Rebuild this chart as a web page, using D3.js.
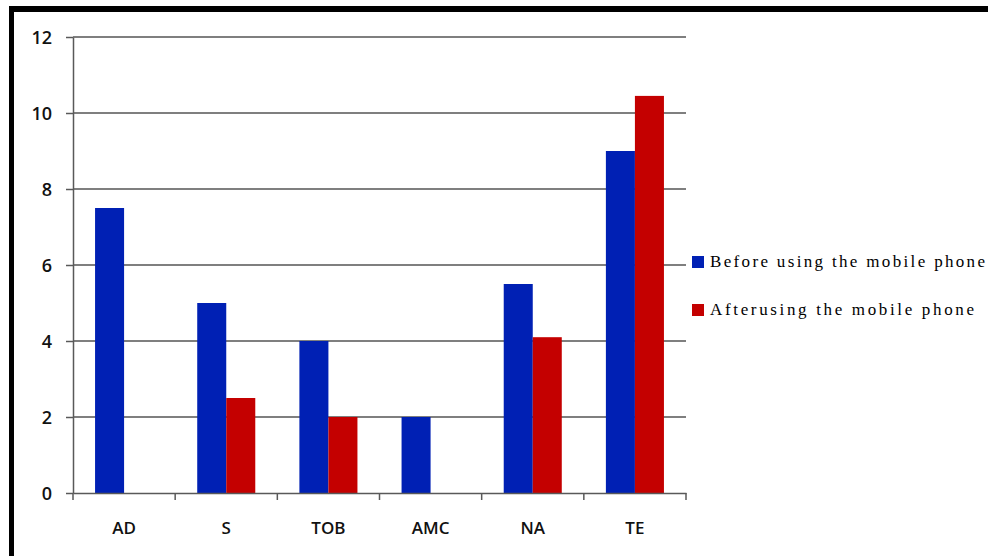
<!DOCTYPE html>
<html>
<head>
<meta charset="utf-8">
<script src="https://cdn.jsdelivr.net/npm/d3@7"></script>
<style>
  html, body { margin: 0; padding: 0; background: #fff; }
  svg { display: block; }
</style>
</head>
<body>
<svg id="chart" width="988" height="556"></svg>
<script>
const categories = ["AD", "S", "TOB", "AMC", "NA", "TE"];
const beforeValues = [7.5, 5, 4, 2, 5.5, 9];
const afterValues = [0, 2.5, 2, 0, 4.1, 10.45];
const seriesNames = ["Before using the mobile phone", "Afterusing the mobile phone"];
const yTicks = [0, 2, 4, 6, 8, 10, 12];

const svg = d3.select("#chart");
const colors = ["#0020b4", "#c40000"];

// frame edges
svg.append("rect").attr("x", 9).attr("y", 6).attr("width", 979).attr("height", 6).attr("fill", "#000");
svg.append("rect").attr("x", 9).attr("y", 6).attr("width", 5).attr("height", 550).attr("fill", "#000");

const plotLeft = 73, plotRight = 686, plotTop = 37, plotBottom = 493;

const x = d3.scaleBand().domain(categories).range([plotLeft, plotRight]).paddingInner(0).paddingOuter(0);
const y = d3.scaleLinear().domain([0, 12]).range([plotBottom, plotTop]);
const inner = d3.scaleBand().domain([0, 1]).range([0, x.bandwidth()]).paddingInner(0).paddingOuter(0.76);

// horizontal gridlines
svg.append("g").selectAll("line").data(yTicks.filter(d => d > 0)).join("line")
  .attr("x1", plotLeft).attr("x2", plotRight)
  .attr("y1", d => y(d)).attr("y2", d => y(d))
  .attr("stroke", "#7f7f7f").attr("stroke-width", 2);

// bars
const groups = svg.append("g").selectAll("g").data(categories).join("g")
  .attr("transform", d => `translate(${x(d)},0)`);
groups.selectAll("rect")
  .data((d, i) => [beforeValues[i], afterValues[i]].map((v, s) => ({ v, s })))
  .join("rect")
  .attr("x", d => inner(d.s))
  .attr("width", inner.bandwidth())
  .attr("y", d => y(d.v))
  .attr("height", d => plotBottom - y(d.v))
  .attr("fill", d => colors[d.s]);

// y axis
const yAxis = svg.append("g").attr("transform", `translate(${plotLeft},0)`)
  .call(d3.axisLeft(y).tickValues(yTicks).tickSize(7).tickPadding(14).tickSizeOuter(0));
yAxis.select(".domain").attr("stroke", "#595959").attr("stroke-width", 1.5);
yAxis.selectAll(".tick line").attr("stroke", "#595959").attr("stroke-width", 1.5);
yAxis.selectAll(".tick text")
  .attr("font-family", "'Open Sans', sans-serif").attr("font-size", 18).attr("font-weight", 600)
  .attr("fill", "#111").attr("dy", "0.35em");

// x axis
const xAxis = svg.append("g").attr("transform", `translate(0,${plotBottom})`)
  .call(d3.axisBottom(x).tickSize(0).tickPadding(29).tickSizeOuter(0));
xAxis.select(".domain").attr("stroke", "#595959").attr("stroke-width", 1.5);
xAxis.selectAll(".tick text")
  .attr("font-family", "'Open Sans', sans-serif").attr("font-size", 17).attr("font-weight", 600)
  .attr("fill", "#111");
// category separator ticks
xAxis.append("g").selectAll("line").data(categories.map(c => x(c)).concat([plotRight]))
  .join("line")
  .attr("x1", d => d).attr("x2", d => d)
  .attr("y1", 0).attr("y2", 7)
  .attr("stroke", "#595959").attr("stroke-width", 1.5);

// legend
const legend = svg.append("g");
const legendY = [262, 310];
const legendLen = [275, 264];
seriesNames.forEach((name, i) => {
  legend.append("rect").attr("x", 692).attr("y", legendY[i] - 6).attr("width", 12).attr("height", 12)
    .attr("fill", colors[i]);
  legend.append("text").attr("x", 710).attr("y", legendY[i] + 5)
    .attr("font-family", "'Liberation Serif', serif").attr("font-size", 17)
    .attr("fill", "#000")
    .attr("textLength", legendLen[i]).attr("lengthAdjust", "spacing")
    .text(name);
});
</script>
</body>
</html>
